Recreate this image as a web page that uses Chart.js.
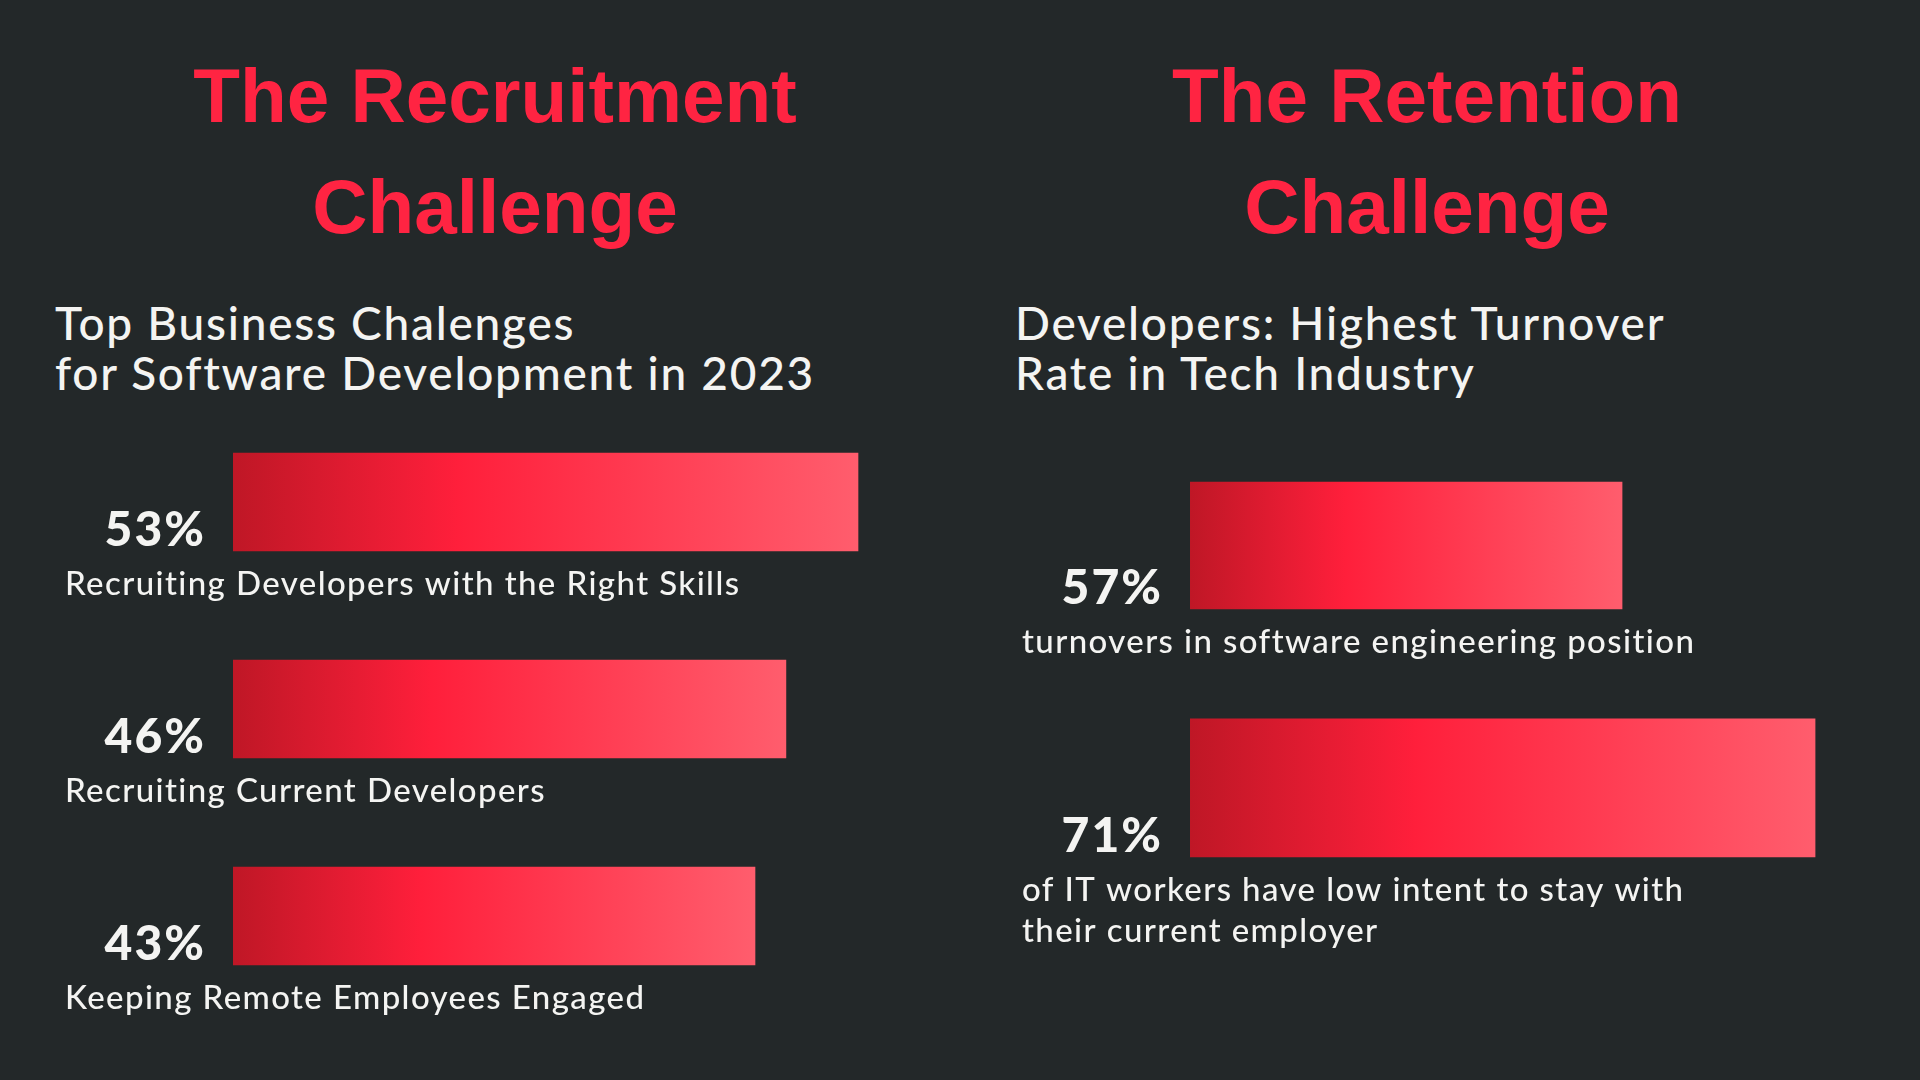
<!DOCTYPE html>
<html>
<head>
<meta charset="utf-8">
<script src="https://cdn.jsdelivr.net/npm/chart.js@4.4.1/dist/chart.umd.min.js"></script>
<style>
  html, body { margin: 0; padding: 0; background: #232829; width: 1920px; height: 1080px; overflow: hidden; }
  .title { position: absolute; top: 40px; width: 960px; text-align: center;
           font-family: "Liberation Sans", Arial, sans-serif; font-weight: bold;
           font-size: 76.5px; line-height: 111px; color: #ff2442; margin: 0; }
  .sub { position: absolute; top: 298px; font-family: Lato, sans-serif; font-weight: 500;
         font-size: 46px; line-height: 50px; letter-spacing: 1.75px; color: #f4f4f2; white-space: nowrap; margin: 0; }
  .wrap { position: absolute; top: 0; width: 960px; height: 1080px; }
</style>
</head>
<body>
<h1 class="title" style="left:15px;">The Recruitment<br>Challenge</h1>
<h1 class="title" style="left:947px;">The Retention<br>Challenge</h1>
<p class="sub" style="left:55px;">Top Business Chalenges<br>for Software Development in 2023</p>
<p class="sub" style="left:1015px;">Developers: Highest Turnover<br>Rate in Tech Industry</p>
<div class="wrap" style="left:0;"><canvas id="recruit"></canvas></div>
<div class="wrap" style="left:960px;"><canvas id="retention"></canvas></div>
<script>
// ---- data ----
const recruitCategories = [
  "Recruiting Developers with the Right Skills",
  "Recruiting Current Developers",
  "Keeping Remote Employees Engaged"
];
const recruitValues = [53, 46, 43];

const retentionCategories = [
  ["turnovers in software engineering position"],
  ["of IT workers have low intent to stay with", "their current employer"]
];
const retentionValues = [57, 71];

// ---- styling helpers ----
function barGradient(ctx) {
  const chart = ctx.chart;
  if (!chart.chartArea || ctx.type !== 'data' || ctx.raw == null) return '#ff1f3b';
  const xs = chart.scales.x;
  const ds = chart.data.datasets[ctx.datasetIndex];
  const baseVal = (ds.base !== undefined) ? ds.base : xs.min;
  const x0 = xs.getPixelForValue(baseVal);
  const x1 = xs.getPixelForValue(ctx.raw);
  const g = chart.ctx.createLinearGradient(x0, 0, x1, 0);
  g.addColorStop(0, '#bf1726');
  g.addColorStop(0.36, '#ff1f3b');
  g.addColorStop(1, '#ff5d6d');
  return g;
}

const labelPlugin = {
  id: 'barLabels',
  afterDatasetsDraw(chart) {
    const ctx = chart.ctx;
    chart.data.datasets.forEach((ds, di) => {
      const meta = chart.getDatasetMeta(di);
      meta.data.forEach((bar, i) => {
        const v = ds.data[i];
        if (v == null) return;
        const p = bar.getProps(['x', 'y', 'base', 'height'], true);
        const bottom = p.y + p.height / 2;
        const left = Math.min(p.base, p.x);
        ctx.save();
        ctx.fillStyle = '#f4f4f2';
        ctx.textBaseline = 'alphabetic';
        ctx.font = '900 48px Lato';
        ctx.letterSpacing = '2px';
        ctx.textAlign = 'right';
        ctx.fillText(v + '%', left - 27, bottom - 5);
        ctx.font = '500 33px Lato';
        ctx.letterSpacing = '1.4px';
        ctx.textAlign = 'left';
        const lines = [].concat(chart.data.labels[i]);
        lines.forEach((ln, li) => ctx.fillText(ln, left - 168, bottom + 44 + li * 41));
        ctx.restore();
      });
    });
  }
};

const commonOptions = (xMin, xMax, padding) => ({
  indexAxis: 'y',
  responsive: true,
  maintainAspectRatio: false,
  animation: false,
  events: [],
  layout: { padding },
  plugins: { legend: { display: false }, tooltip: { enabled: false } },
  scales: {
    x: { type: 'linear', min: xMin, max: xMax, display: false, grid: { display: false } },
    y: { display: false, grid: { display: false } }
  }
});

// ---- left chart ----
const recruitMin = -7.68;
new Chart(document.getElementById('recruit'), {
  type: 'bar',
  data: {
    labels: recruitCategories,
    datasets: [{
      data: recruitValues,
      base: recruitMin,
      backgroundColor: barGradient,
      borderWidth: 0,
      barThickness: 98
    }]
  },
  options: commonOptions(recruitMin, 61, { left: 233, right: 19.6, top: 398.5, bottom: 60.5 }),
  plugins: [labelPlugin]
});

// ---- right chart ----
const retentionMin = 25.66;
const retentionThickness = [127, 138];
new Chart(document.getElementById('retention'), {
  type: 'bar',
  data: {
    labels: retentionCategories,
    datasets: retentionValues.map((v, i) => ({
      data: retentionValues.map((w, j) => (j === i ? w : null)),
      base: retentionMin,
      backgroundColor: barGradient,
      borderWidth: 0,
      barThickness: retentionThickness[i],
      grouped: false
    }))
  },
  options: commonOptions(retentionMin, 75, { left: 230, right: 49.8, top: 424.35, bottom: 171.05 }),
  plugins: [labelPlugin]
});
</script>
</body>
</html>
